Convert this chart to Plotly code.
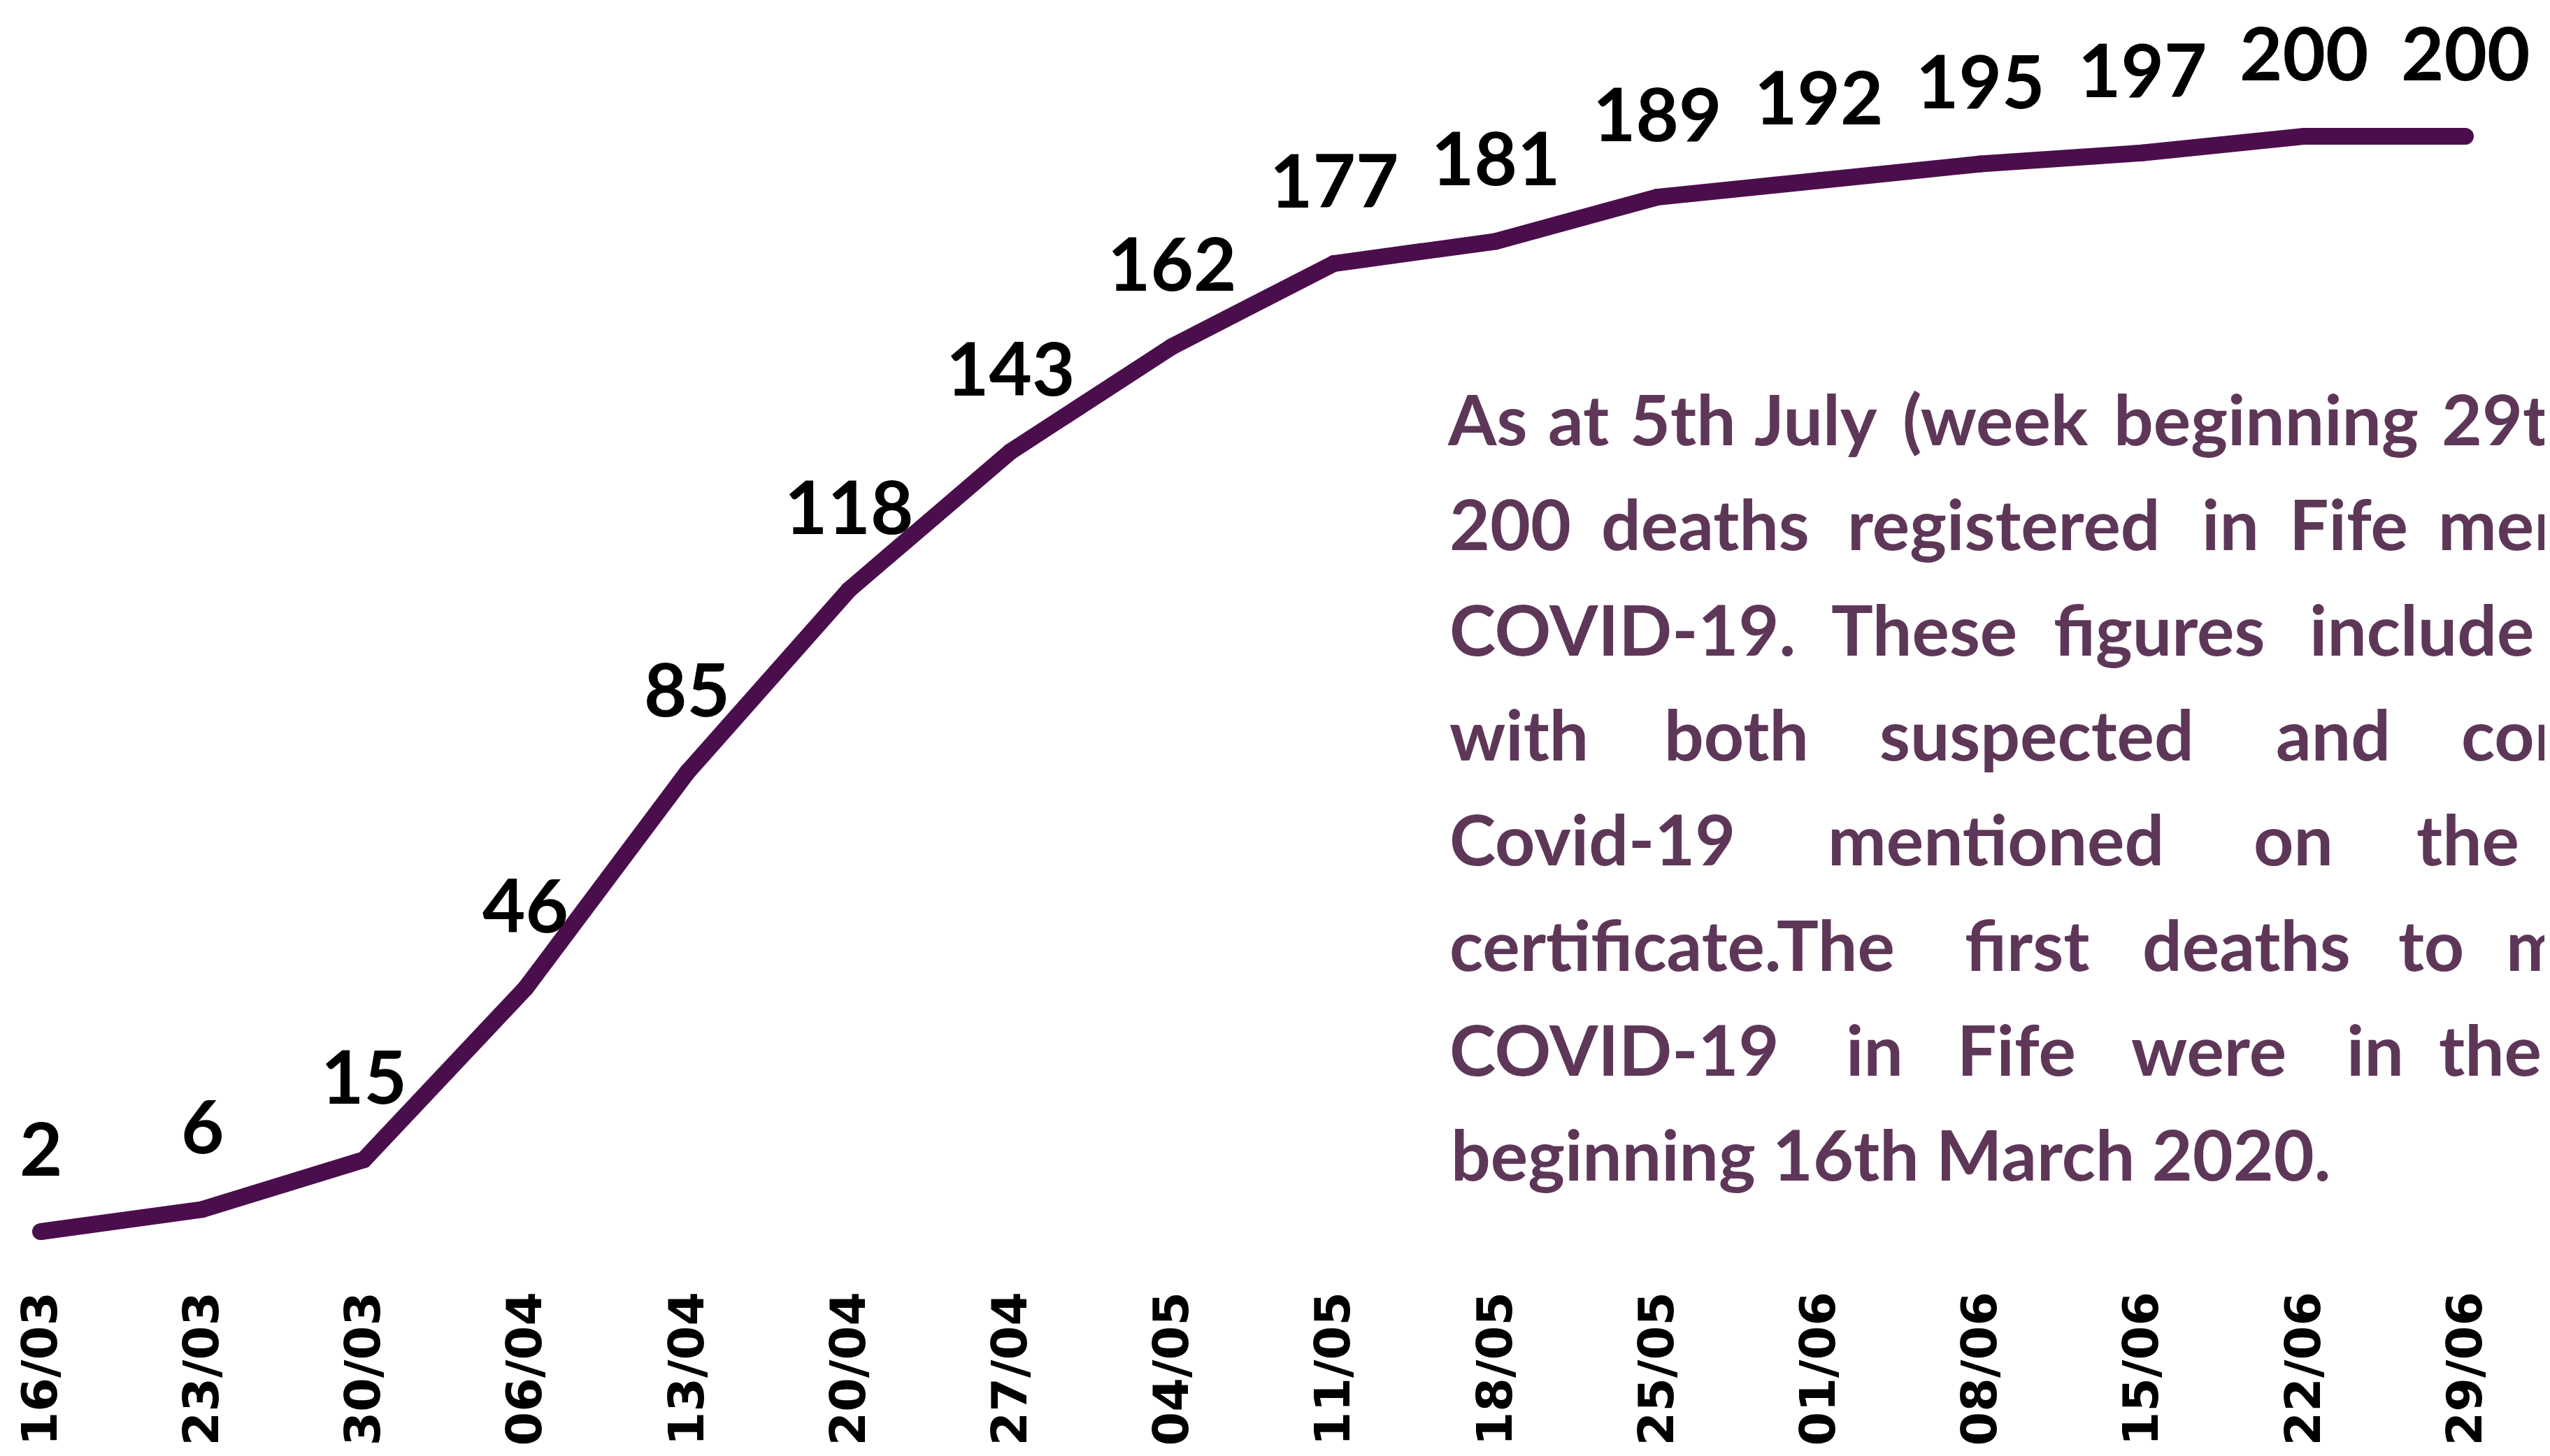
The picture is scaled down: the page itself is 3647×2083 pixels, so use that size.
import plotly.graph_objects as go

# ---- data ----
weeks = ["16/03", "23/03", "30/03", "06/04", "13/04", "20/04", "27/04", "04/05",
         "11/05", "18/05", "25/05", "01/06", "08/06", "15/06", "22/06", "29/06"]
deaths = [2, 6, 15, 46, 85, 118, 143, 162, 177, 181, 189, 192, 195, 197, 200, 200]

para_lines = [
    ["As", "at", "5th", "July", "(week", "beginning", "29th"],
    ["200", "deaths", "registered", "in", "Fife", "mentioning"],
    ["COVID-19.", "These", "figures", "include"],
    ["with", "both", "suspected", "and", "confirmed"],
    ["Covid-19", "mentioned", "on", "the"],
    ["certificate.The", "first", "deaths", "to", "mention"],
    ["COVID-19", "in", "Fife", "were", "in", "the"],
    ["beginning 16th March 2020."],
]

# ---- layout parameters (pixels) ----
W, H = 3647, 2083
word_x = [
    [2066, 2210, 2327, 2505, 2717, 3019, 3488],
    [2069, 2286, 2638, 3145, 3270, 3483],
    [2069, 2615, 2933, 3299],
    [2069, 2376, 2684, 3251, 3516],
    [2069, 2610, 3219, 3452],
    [2069, 2806, 3060, 3426, 3580],
    [2069, 2636, 2795, 3044, 3352, 3484],
    [2071],
]
X_CORR = -6
line_y0, line_dy = 590, 150.3

LINE_COLOR = "#4b0e4d"
TEXT_COLOR = "#5e3758"

fig = go.Figure()
fig.add_trace(go.Scatter(
    x=weeks, y=deaths, mode="lines+markers",
    line=dict(color=LINE_COLOR, width=24),
    marker=dict(color=LINE_COLOR, size=24, line=dict(width=0)),
    hoverinfo="skip", showlegend=False, cliponaxis=False,
))

annotations = []
for w, v in zip(weeks, deaths):
    annotations.append(dict(
        x=w, y=v, xref="x", yref="y", text=str(v), showarrow=False,
        yshift=121, xanchor="center", yanchor="middle",
        font=dict(family="Lato", size=106, color="black", weight="bold"),
    ))

b = 258
plot_h = H - b

for li, (words, xs) in enumerate(zip(para_lines, word_x)):
    ypx = line_y0 + li * line_dy
    for word, xp in zip(words, xs):
        annotations.append(dict(
            x=(xp + X_CORR) / W, y=1 - ypx / plot_h, xref="paper", yref="paper",
            text=word, showarrow=False, xanchor="left", yanchor="middle",
            font=dict(family="Lato", size=100, color=TEXT_COLOR, weight="bold"),
        ))

# pixel positions of first (value 2) and last (value 200) points
x_first, x_last = 50, 3518
y_first, y_last = 1754, 187
px_per_unit = (y_first - y_last) / 198.0
y_zero_px = y_first + 2 * px_per_unit
x_px_per = (x_last - x_first) / 15.0

fig.update_layout(
    width=W, height=H,
    margin=dict(l=0, r=0, t=0, b=b, pad=0),
    paper_bgcolor="white", plot_bgcolor="white",
    annotations=annotations,
    xaxis=dict(
        type="category",
        range=[-x_first / x_px_per, 15 + (W - x_last) / x_px_per],
        showgrid=False, zeroline=False, showline=False, ticks="",
        tickangle=-90,
        tickfont=dict(family="DejaVu Sans", size=70, color="black", weight="bold"),
        ticklabelstandoff=0,
    ),
    yaxis=dict(
        range=[(y_zero_px - plot_h) / px_per_unit, y_zero_px / px_per_unit],
        visible=False, showgrid=False, zeroline=False,
    ),
)

fig.write_html("out.html")
